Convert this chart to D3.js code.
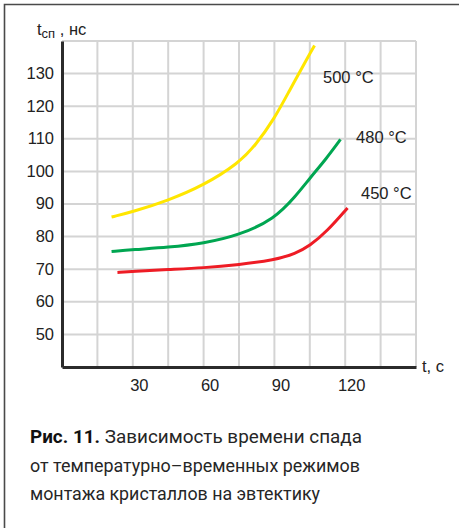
<!DOCTYPE html>
<meta charset="utf-8">
<style>
    body {
        margin: 0;
        background: #fff;
    }
    svg text {
        font-family: "Liberation Sans", Arial, sans-serif;
        fill: #222;
    }
    .grid line {
        stroke: #d4d4d4;
        stroke-width: 2;
    }
    .axis path {
        stroke: #2b2b2b;
        stroke-width: 3;
    }
    .axis text {
        font-size: 16.5px;
    }
    .curve {
        fill: none;
        stroke-width: 3;
    }
    .caption text {
        font-family: Roboto, sans-serif;
        font-size: 18px;
        fill: #262626;
    }
</style>
<body>
<script src="https://cdn.jsdelivr.net/npm/d3@7"></script>
<script>

    // values
    var t500 = [21, 30, 45, 60, 75, 82, 90, 96, 105, 107];
    var v500 = [86, 87.6, 91.1, 95.7, 102.6, 108, 116.2, 124.3, 136.1, 138.6];

    var t480 = [21, 30, 45, 60, 75, 90, 99, 105, 112, 118];
    var v480 = [75.4, 76.0, 76.7, 77.9, 80.4, 85.4, 92.4, 97.9, 103.9, 109.8];

    var t450 = [23.5, 30, 45, 60, 75, 90, 99, 105, 112, 121];
    var v450 = [69.0, 69.3, 69.9, 70.4, 71.4, 72.8, 74.8, 77.2, 81.4, 88.8];

    var seriesNames = ["500 °C", "480 °C", "450 °C"];
    var seriesColors = ["#ffe600", "#00a651", "#ee1c25"];

    var xTicks = [30, 60, 90, 120];
    var yTicks = [50, 60, 70, 80, 90, 100, 110, 120, 130];
    var xGrid = [15, 30, 45, 60, 75, 90, 105, 120, 135, 150];
    var yGrid = [50, 60, 70, 80, 90, 100, 110, 120, 130, 140];

    var captionBold = "Рис. 11.";
    var captionLines = ["Зависимость времени спада",
                        "от температурно–временных режимов",
                        "монтажа кристаллов на эвтектику"];

    var width = 459, height = 528;

    var x = d3.scaleLinear().domain([0, 150]).range([62, 416]);
    var y = d3.scaleLinear().domain([40, 140]).range([367, 41]);

    var svg = d3.select("body").append("svg")
            .attr("width", width)
            .attr("height", height);

    // frame
    svg.append("path")
            .attr("d", "M4.5,528 V4.5 H459")
            .attr("fill", "none")
            .attr("stroke", "#4a4a4a")
            .attr("stroke-width", 1.6);

    // grid
    var grid = svg.append("g").attr("class", "grid");
    grid.selectAll("line.v").data(xGrid).enter().append("line")
            .attr("class", "v")
            .attr("x1", function(d) { return x(d); })
            .attr("x2", function(d) { return x(d); })
            .attr("y1", y(40))
            .attr("y2", y(140));
    grid.selectAll("line.h").data(yGrid).enter().append("line")
            .attr("class", "h")
            .attr("x1", x(0))
            .attr("x2", x(150))
            .attr("y1", function(d) { return y(d); })
            .attr("y2", function(d) { return y(d); });

    // curves
    var line = d3.line()
            .x(function(d) { return x(d[0]); })
            .y(function(d) { return y(d[1]); })
            .curve(d3.curveBasis);

    var series = [d3.zip(t500, v500), d3.zip(t480, v480), d3.zip(t450, v450)];

    svg.selectAll("path.curve").data(series).enter().append("path")
            .attr("class", "curve")
            .attr("stroke", function(d, i) { return seriesColors[i]; })
            .attr("d", line);

    // axes
    var yAxis = d3.axisLeft(y).tickValues(yTicks).tickSize(0).tickSizeOuter(0).tickPadding(8);
    var xAxis = d3.axisBottom(x).tickValues(xTicks).tickSize(0).tickSizeOuter(0).tickPadding(12);

    svg.append("g")
            .attr("class", "y axis")
            .attr("transform", "translate(" + x(0) + ",0)")
            .call(yAxis)
            .call(function(g) { g.selectAll("text").attr("dy", "0.3em").attr("font-family", null).attr("font-size", null); });

    svg.append("g")
            .attr("class", "x axis")
            .attr("transform", "translate(0," + y(40) + ")")
            .call(xAxis)
            .call(function(g) { g.selectAll("text").attr("dx", 6).attr("font-family", null).attr("font-size", null); });

    // axis titles
    var yTitle = svg.append("text")
            .attr("x", 37)
            .attr("y", 35)
            .style("font-size", "16.5px");
    yTitle.append("tspan").text("t");
    yTitle.append("tspan").attr("dy", 3).style("font-size", "13px").text("сп");
    yTitle.append("tspan").attr("dy", -3).text(" , нс");

    svg.append("text")
            .attr("x", 422)
            .attr("y", 372)
            .style("font-size", "16.5px")
            .text("t, c");

    // curve labels
    var labelT = [110.6, 124.6, 126.7];
    var labelV = [127.1, 108.7, 91.5];
    svg.selectAll("text.lbl").data(seriesNames).enter().append("text")
            .attr("class", "lbl")
            .attr("x", function(d, i) { return x(labelT[i]); })
            .attr("y", function(d, i) { return y(labelV[i]); })
            .style("font-size", "16.5px")
            .text(function(d) { return d; });

    // caption
    var cap = svg.append("g").attr("class", "caption");
    var first = cap.append("text")
            .attr("x", 30)
            .attr("y", 443)
            .attr("textLength", 332)
            .attr("lengthAdjust", "spacingAndGlyphs");
    first.append("tspan")
            .style("font-weight", "bold")
            .style("fill", "#111")
            .text(captionBold + " ");
    first.append("tspan").text(captionLines[0]);

    cap.append("text")
            .attr("x", 30)
            .attr("y", 472)
            .attr("textLength", 330)
            .attr("lengthAdjust", "spacingAndGlyphs")
            .text(captionLines[1]);

    cap.append("text")
            .attr("x", 30)
            .attr("y", 500)
            .attr("textLength", 290)
            .attr("lengthAdjust", "spacingAndGlyphs")
            .text(captionLines[2]);

</script>
